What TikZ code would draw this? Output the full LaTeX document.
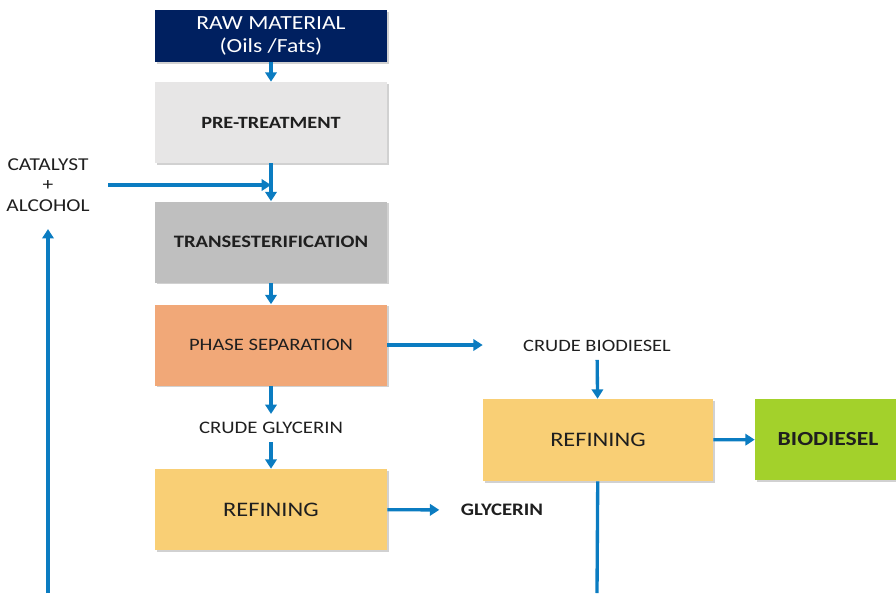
\documentclass[tikz,border=0pt]{standalone}
\usepackage{fontspec}
\setmainfont[FakeStretch=1.18]{Carlito}
\usetikzlibrary{arrows.meta,positioning,shadows}
\definecolor{navy}{HTML}{002060}
\definecolor{pregray}{HTML}{E7E6E6}
\definecolor{transgray}{HTML}{BFBFBF}
\definecolor{phaseorange}{HTML}{F1A878}
\definecolor{refyellow}{HTML}{F9CF75}
\definecolor{biogreen}{HTML}{A3D12B}
\definecolor{flowblue}{HTML}{0B7CC1}
\definecolor{txt}{HTML}{1F1F1F}

\begin{document}
\begin{tikzpicture}[x=0.75pt,y=-0.75pt,
  box/.style={rectangle,minimum width=174pt,minimum height=60.75pt,inner sep=0pt,text=txt,
    drop shadow={shadow xshift=1.2pt,shadow yshift=-1.2pt,opacity=.3,fill=black!60}},
  lbl/.style={inner sep=6pt,text=txt,font=\fontsize{13.2}{15.4}\selectfont},
  flow/.style={draw=flowblue,line width=2.5pt,-{Triangle[length=7pt,width=8.5pt]}}]
  \useasboundingbox (0,0) rectangle (896,593);
  % main column
  \node[box,fill=navy,text=white,minimum height=39pt,align=center,
    font=\fontsize{15}{17.25}\selectfont] (raw) at (271,36) {RAW MATERIAL\\(Oils /Fats)};
  \node[box,fill=pregray,font=\bfseries\fontsize{12.9}{15}\selectfont] (pre) at (271,122.5) {PRE-TREATMENT};
  \node[box,fill=transgray,font=\bfseries\fontsize{13.1}{15}\selectfont] (trans) at (271,242) {TRANSESTERIFICATION};
  \node[box,fill=phaseorange,font=\fontsize{13.1}{15}\selectfont] (phase) at (271,345) {PHASE SEPARATION};
  \node[lbl] (cg) at (271,428) {CRUDE GLYCERIN};
  \node[box,fill=refyellow,font=\fontsize{15.5}{18}\selectfont] (refl) at (271,509.5) {REFINING};
  \node[lbl,font=\bfseries\fontsize{13.2}{15}\selectfont] (gly) at (502,510) {GLYCERIN};
  % biodiesel branch
  \node[lbl,font=\fontsize{13}{15}\selectfont] (cb) at (597,346) {CRUDE BIODIESEL};
  \node[box,fill=refyellow,minimum width=172.5pt,minimum height=61.5pt,
    font=\fontsize{15.5}{18}\selectfont] (refr) at (598,440) {REFINING};
  \node[box,fill=biogreen,minimum width=109.5pt,font=\bfseries\fontsize{15}{17}\selectfont] (bio) at (828,439.5) {BIODIESEL};
  % recycle
  \node[lbl,align=center,font=\fontsize{13.6}{15.4}\selectfont] (cat) at (48,185) {CATALYST\\+\\ALCOHOL};
  \coordinate (end_l) at (48,593);
  \coordinate (end_r) at (597,593);

  \draw[flow] (raw) -- (pre);
  \draw[flow] (pre) -- (trans);
  \draw[flow] (trans) -- (phase);
  \draw[flow] (phase) -- (cg);
  \draw[flow] (cg) -- (refl);
  \draw[flow,shorten >=10pt] (refl) -- (gly);
  \draw[flow] (phase.east) -- (phase.east -| refr.west);
  \draw[flow] (cb) -- (refr);
  \draw[flow] (refr) -- (bio);
  \draw[flow,-] (refr) -- (end_r);
  \draw[flow,shorten >=7pt] (end_l) -- (cat);
  \draw[flow,shorten <=8pt] (cat.east) -- (cat.east -| pre.south);
\end{tikzpicture}
\end{document}
